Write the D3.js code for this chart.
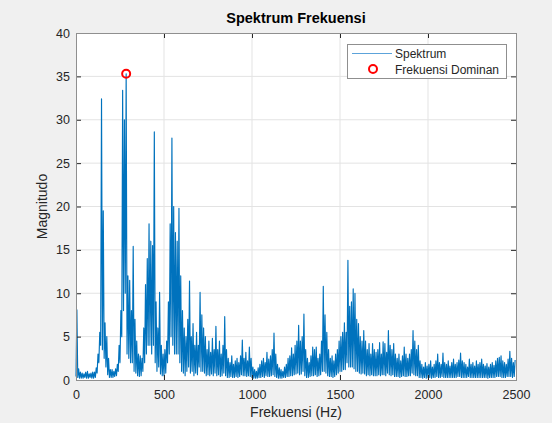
<!DOCTYPE html>
<html>
<head>
<meta charset="utf-8">
<script src="https://cdn.jsdelivr.net/npm/d3@7"></script>
<style>
  html, body { margin: 0; padding: 0; background: #f0f0f0; }
  svg { display: block; font-family: "Liberation Sans", Arial, sans-serif; }
  .tick text { fill: #262626; font-size: 12.5px; }
</style>
</head>
<body>
<div id="chart"></div>
<script>
// spectrum: for every 10 Hz bin, the highest and the lowest magnitude
const binHz = 10;
const magHigh = [
  8.1, 1.3, 0.9, 0.8, 0.7, 0.9, 1.0, 0.7, 0.8, 0.9,
  0.9, 1.4, 3.0, 5.5, 32.4, 19.5, 6.6, 5.0, 2.5, 1.2,
  1.2, 1.0, 1.3, 1.8, 4.0, 8.0, 33.4, 30.0, 35.3, 12.0,
  11.5, 8.0, 15.4, 7.0, 4.5, 3.0, 2.8, 2.5, 6.0, 11.0,
  14.0, 18.0, 16.0, 15.5, 28.6, 9.0, 6.0, 10.1, 4.0, 3.0,
  3.5, 4.5, 9.0, 18.0, 27.9, 20.0, 17.0, 16.0, 19.8, 12.0,
  8.0, 6.0, 5.0, 7.0, 11.4, 5.0, 6.5, 4.0, 5.5, 4.0,
  10.1, 7.5, 6.0, 5.0, 3.5, 4.5, 3.2, 4.8, 3.5, 6.2,
  3.5, 4.5, 3.0, 4.0, 7.3, 3.5, 2.5, 2.0, 2.8, 1.8,
  2.2, 2.5, 2.0, 2.8, 4.6, 2.5, 3.2, 2.2, 3.8, 2.5,
  1.5, 1.2, 1.0, 1.4, 1.8, 2.2, 2.5, 2.0, 3.2, 2.4,
  2.8, 3.5, 5.4, 3.0, 1.8, 1.4, 1.2, 1.0, 1.5, 1.8,
  2.5, 2.8, 3.7, 3.0, 4.0, 4.5, 6.3, 4.5, 5.0, 7.6,
  3.5, 2.5, 2.0, 2.8, 3.8, 3.5, 3.8, 2.5, 3.0, 4.5,
  10.8, 7.5, 5.5, 3.5, 2.5, 2.8, 2.2, 3.0, 3.5, 4.5,
  5.0, 5.5, 6.6, 5.5, 13.8, 8.5, 9.0, 10.5, 10.0, 7.0,
  6.5, 5.0, 4.5, 5.7, 4.5, 3.5, 4.2, 3.0, 4.2, 3.5,
  3.2, 3.5, 4.3, 3.0, 4.4, 4.2, 3.2, 5.7, 4.0, 3.5,
  4.2, 3.0, 2.5, 3.0, 2.2, 2.8, 3.8, 3.0, 2.5, 3.0,
  3.5, 5.7, 4.5, 3.5, 4.0, 2.2, 1.8, 1.5, 2.0, 1.6,
  1.8, 2.2, 1.5, 1.8, 2.2, 3.0, 2.0, 1.8, 3.1, 2.0,
  1.8, 2.2, 1.6, 2.0, 2.4, 1.8, 2.0, 2.3, 3.1, 2.2,
  2.0, 1.8, 1.5, 2.4, 1.8, 2.0, 1.6, 2.2, 1.8, 2.0,
  2.4, 1.8, 1.6, 1.9, 1.5, 1.8, 2.0, 1.7, 2.2, 2.5,
  2.6, 2.8, 2.2, 2.0, 1.8, 2.4, 3.3, 2.5, 2.0, 2.3
];
const magLow = [
  0.4, 0.3, 0.2, 0.2, 0.2, 0.3, 0.2, 0.2, 0.3, 0.2,
  0.2, 0.3, 0.8, 2.0, 4.0, 3.5, 2.5, 1.5, 0.6, 0.3,
  0.3, 0.3, 0.4, 0.5, 1.0, 2.0, 5.0, 8.0, 10.0, 3.0,
  2.5, 2.0, 2.0, 1.0, 0.8, 0.5, 0.4, 0.5, 1.0, 2.0,
  3.0, 4.0, 4.0, 3.0, 4.0, 2.0, 1.0, 1.5, 0.7, 0.5,
  0.5, 0.8, 2.0, 3.0, 5.0, 4.0, 3.0, 3.0, 3.0, 2.0,
  1.0, 0.8, 0.5, 1.0, 1.5, 0.8, 1.0, 0.5, 0.8, 0.6,
  1.5, 1.0, 1.0, 0.8, 0.5, 0.6, 0.5, 0.7, 0.5, 0.8,
  0.5, 0.6, 0.4, 0.5, 0.8, 0.5, 0.3, 0.3, 0.4, 0.3,
  0.3, 0.4, 0.3, 0.4, 0.6, 0.5, 0.5, 0.4, 0.5, 0.4,
  0.3, 0.2, 0.2, 0.2, 0.3, 0.3, 0.4, 0.3, 0.5, 0.4,
  0.4, 0.5, 0.6, 0.4, 0.3, 0.2, 0.2, 0.2, 0.3, 0.3,
  0.4, 0.4, 0.5, 0.5, 0.6, 0.7, 0.8, 0.6, 0.7, 1.0,
  0.5, 0.3, 0.3, 0.4, 0.5, 0.5, 0.6, 0.4, 0.5, 0.6,
  1.0, 1.0, 0.8, 0.5, 0.4, 0.4, 0.3, 0.4, 0.6, 0.8,
  1.0, 1.0, 1.2, 1.2, 2.0, 1.5, 1.5, 1.5, 1.3, 1.0,
  1.0, 0.8, 0.7, 0.8, 0.7, 0.5, 0.6, 0.5, 0.6, 0.5,
  0.5, 0.5, 0.6, 0.5, 0.6, 0.6, 0.5, 0.8, 0.6, 0.5,
  0.6, 0.4, 0.4, 0.4, 0.3, 0.4, 0.5, 0.4, 0.4, 0.5,
  0.5, 0.8, 0.6, 0.5, 0.5, 0.3, 0.3, 0.2, 0.3, 0.2,
  0.3, 0.3, 0.2, 0.3, 0.3, 0.4, 0.3, 0.3, 0.4, 0.3,
  0.3, 0.3, 0.3, 0.3, 0.3, 0.3, 0.3, 0.4, 0.4, 0.3,
  0.3, 0.3, 0.3, 0.4, 0.3, 0.3, 0.3, 0.3, 0.3, 0.3,
  0.3, 0.3, 0.3, 0.3, 0.2, 0.3, 0.3, 0.3, 0.3, 0.4,
  0.4, 0.4, 0.3, 0.3, 0.3, 0.4, 0.4, 0.4, 0.3, 0.4
];
const xTicks = [0, 500, 1000, 1500, 2000, 2500];
const yTicks = [0, 5, 10, 15, 20, 25, 30, 35, 40];

const W = 552, H = 423;
const m = { top: 33, right: 36, bottom: 43, left: 76 };
const iw = W - m.left - m.right, ih = H - m.top - m.bottom;
const blue = '#0072bd', ink = '#262626';

const x = d3.scaleLinear().domain([0, 2500]).range([0, iw]);
const y = d3.scaleLinear().domain([0, 40]).range([ih, 0]);

// zig-zag low -> high inside each bin, like the dense raw FFT line
const pts = [];
magHigh.forEach((hi, i) => {
  pts.push([i * binHz, magLow[i]]);
  pts.push([i * binHz + binHz / 2, hi]);
});
const iMax = d3.maxIndex(magHigh);
const domF = iMax * binHz + binHz / 2, domM = magHigh[iMax];

const svg = d3.select('#chart').append('svg')
  .attr('width', W).attr('height', H);

svg.append('text')
  .attr('x', m.left + iw / 2).attr('y', 23)
  .attr('text-anchor', 'middle')
  .attr('font-size', '14.5px').attr('font-weight', 'bold')
  .attr('fill', '#000')
  .text('Spektrum Frekuensi');

const g = svg.append('g').attr('transform', `translate(${m.left},${m.top})`);

g.append('rect').attr('width', iw).attr('height', ih).attr('fill', '#fff');

// grid
g.append('g').selectAll('line').data(xTicks.slice(1, -1)).join('line')
  .attr('x1', d => x(d)).attr('x2', d => x(d))
  .attr('y1', 0).attr('y2', ih)
  .attr('stroke', '#e3e3e3').attr('stroke-width', 1);
g.append('g').selectAll('line').data(yTicks.slice(1, -1)).join('line')
  .attr('y1', d => y(d)).attr('y2', d => y(d))
  .attr('x1', 0).attr('x2', iw)
  .attr('stroke', '#e3e3e3').attr('stroke-width', 1);

// spectrum
g.append('path')
  .datum(pts)
  .attr('fill', 'none')
  .attr('stroke', blue)
  .attr('stroke-width', 1.15)
  .attr('stroke-linejoin', 'round')
  .attr('d', d3.line().x(d => x(d[0])).y(d => y(d[1])));

// dominant frequency marker
g.append('circle')
  .attr('cx', x(domF)).attr('cy', y(domM)).attr('r', 4)
  .attr('fill', 'none').attr('stroke', '#ff0000').attr('stroke-width', 2);

// axes (ticks inside, box on)
const fmt = d3.format('d');
g.append('g').attr('transform', `translate(0,${ih})`)
  .call(d3.axisBottom(x).tickValues(xTicks).tickFormat(fmt)
    .tickSizeInner(-5).tickSizeOuter(0).tickPadding(10));
g.append('g')
  .call(d3.axisLeft(y).tickValues(yTicks).tickFormat(fmt)
    .tickSizeInner(-5).tickSizeOuter(0).tickPadding(6));
g.append('g')
  .call(d3.axisTop(x).tickValues(xTicks).tickSizeInner(-5).tickSizeOuter(0).tickFormat(''));
g.append('g').attr('transform', `translate(${iw},0)`)
  .call(d3.axisRight(y).tickValues(yTicks).tickSizeInner(-5).tickSizeOuter(0).tickFormat(''));
g.selectAll('.domain').remove();
g.selectAll('.tick line').attr('stroke', ink);
g.selectAll('.tick text').attr('font-family', null).attr('font-size', null);

g.append('rect').attr('width', iw).attr('height', ih)
  .attr('fill', 'none').attr('stroke', '#8f8f8f').attr('stroke-width', 1)
  .attr('shape-rendering', 'crispEdges');

svg.append('text')
  .attr('x', m.left + iw / 2).attr('y', 417)
  .attr('text-anchor', 'middle').attr('font-size', '14px').attr('fill', ink)
  .text('Frekuensi (Hz)');
svg.append('text')
  .attr('transform', `translate(47,${m.top + ih / 2}) rotate(-90)`)
  .attr('text-anchor', 'middle').attr('font-size', '14px').attr('fill', ink)
  .text('Magnitudo');

// legend
const lg = svg.append('g').attr('transform', 'translate(347,44)');
lg.append('rect').attr('width', 159).attr('height', 34)
  .attr('fill', '#fff').attr('stroke', '#8f8f8f').attr('stroke-width', 1)
  .attr('shape-rendering', 'crispEdges');
lg.append('line').attr('x1', 5).attr('x2', 45).attr('y1', 9.5).attr('y2', 9.5)
  .attr('stroke', '#5ca3da').attr('stroke-width', 1);
lg.append('circle').attr('cx', 26).attr('cy', 25).attr('r', 4)
  .attr('fill', 'none').attr('stroke', '#ff0000').attr('stroke-width', 2);
lg.append('text').attr('x', 48).attr('y', 14).attr('font-size', '12px').attr('fill', ink)
  .text('Spektrum');
lg.append('text').attr('x', 48).attr('y', 29.5).attr('font-size', '12px').attr('fill', ink)
  .text('Frekuensi Dominan');
</script>
</body>
</html>
